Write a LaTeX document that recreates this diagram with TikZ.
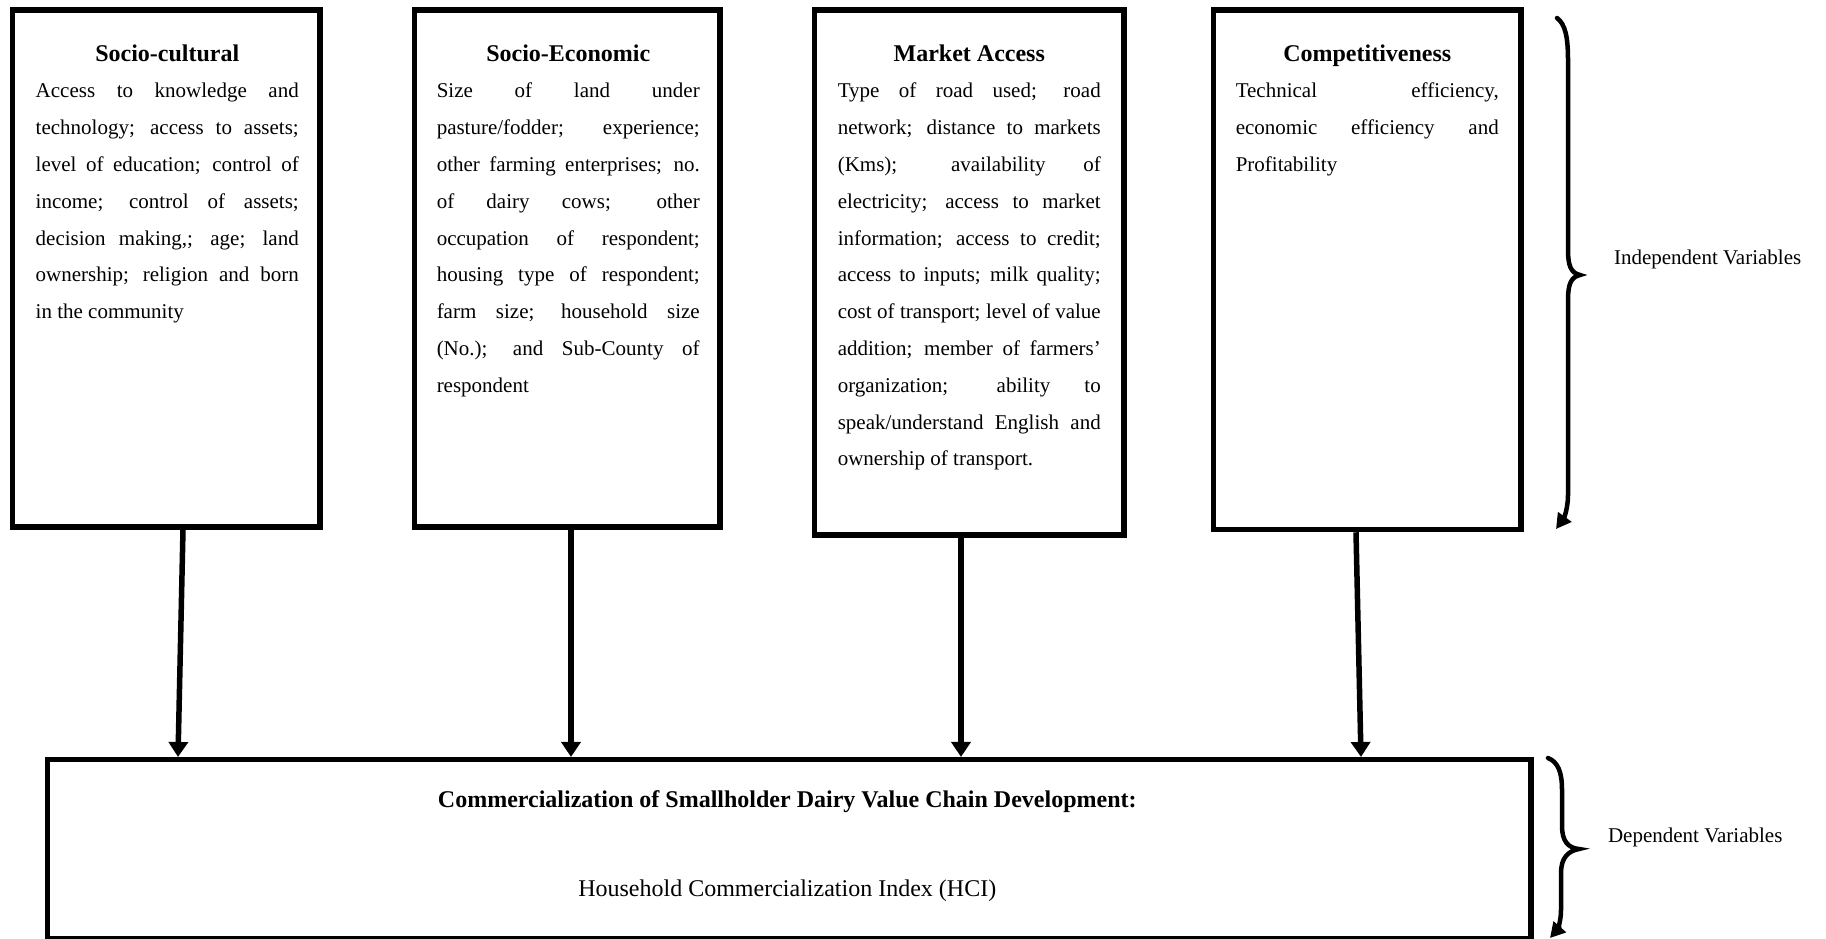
\documentclass[tikz,border=0pt]{standalone}
\usepackage{fontspec}
\setmainfont{Liberation Serif}
\usetikzlibrary{arrows.meta,positioning,calc}
\tolerance=10000
\newcommand{\vartitle}[1]{{\centering\fontsize{12}{18.4}\selectfont\bfseries #1\par}}

\begin{document}
\begin{tikzpicture}[x=0.5pt, y=0.5pt,
  every node/.style={font=\fontsize{10.5}{18.4}\selectfont},
  varbox/.style={draw, line width=2.75pt, inner sep=0pt, minimum width=153.75pt, minimum height=258.5pt},
  vartext/.style={text width=131.5pt, inner sep=0pt, align=justify, anchor=base},
  link/.style={line width=2.75pt, -{Triangle[length=7.5pt,width=9.5pt]}},
  brace/.style={line width=2.25pt, line cap=round, -{Triangle[length=7.5pt,width=8pt]}}]
\useasboundingbox (0,0) rectangle (1826,-938);

\node[varbox] (sc) at (166.25,-268.5) {};
\node[varbox, minimum width=152.75pt] (se) at (567.25,-268.5) {};
\node[varbox, minimum width=154.75pt, minimum height=262.5pt] (ma) at (969.25,-272.5) {};
\node[varbox, minimum height=259.75pt] (co) at (1367.25,-269.75) {};
\node[draw, line width=2.75pt, inner sep=0pt, minimum width=741.75pt, minimum height=89.65pt] (hci) at (789.25,-849.35) {};

\node[vartext] (sctext) at ($(sc.north)+(1,-53.75)$) {\vartitle{Socio-cultural}
Access to knowledge and\linebreak
technology; access to assets;\linebreak
level of education; control of\linebreak
income; control of assets;\linebreak
decision making,; age; land\linebreak
ownership; religion and born\linebreak
in the community};
\node[vartext] (setext) at ($(se.north)+(1,-53.75)$) {\vartitle{Socio-Economic}
Size of land under\linebreak
pasture/fodder; experience;\linebreak
other farming enterprises; no.\linebreak
of dairy cows; other\linebreak
occupation of respondent;\linebreak
housing type of respondent;\linebreak
farm size; household size\linebreak
(No.); and Sub-County of\linebreak
respondent};
\node[vartext] (matext) at ($(ma.north)+(0,-53.75)$) {\vartitle{Market Access}
Type of road used; road\linebreak
network; distance to markets\linebreak
(Kms); availability of\linebreak
electricity; access to market\linebreak
information; access to credit;\linebreak
access to inputs; milk quality;\linebreak
cost of transport; level of value\linebreak
addition; member of farmers’\linebreak
organization; ability to\linebreak
speak/understand English and\linebreak
ownership of transport.};
\node[vartext] (cotext) at ($(co.north)+(0,-53.75)$) {\vartitle{Competitiveness}
Technical efficiency,\linebreak
economic efficiency and\linebreak
Profitability};

\node[anchor=base, font=\fontsize{12}{18.4}\selectfont\bfseries] (hcititle) at ($(hci.north)+(-2,-51)$) {Commercialization of Smallholder Dairy Value Chain Development:};
\node[anchor=base, font=\fontsize{12}{18.4}\selectfont] (hciindex) at ($(hci.north)+(-2,-140)$) {Household Commercialization Index (HCI)};

\foreach \src/\dx/\ex in {sc/16.75/133.25, se/3.75/526.25, ma/-8.25/916.25, co/-11.25/1316.25} {
  \draw[link] ($(\src.south)+(\dx,0)$) -- ($(hci.north west)+(\ex,0)$);
}

\draw[brace] (1557,-18) .. controls (1565,-24) and (1568,-36) .. (1568,-60) -- (1568,-250)
  .. controls (1568,-266) and (1571,-273) .. (1580,-275)
  .. controls (1571,-277) and (1568,-284) .. (1568,-300) -- (1568,-495)
  .. controls (1568,-508) and (1564,-518) .. (1556,-529);
\draw[brace] (1548,-758) .. controls (1558,-762) and (1562,-772) .. (1562,-790) -- (1562,-826)
  .. controls (1562,-841) and (1568,-848) .. (1579,-849)
  .. controls (1568,-851) and (1561,-858) .. (1561,-873) -- (1561,-910)
  .. controls (1561,-922) and (1557,-930) .. (1550,-938);

\node[anchor=west] (indeplabel) at (1607,-259) {Independent Variables};
\node[anchor=west] (deplabel) at (1601,-837) {Dependent Variables};
\end{tikzpicture}
\end{document}
